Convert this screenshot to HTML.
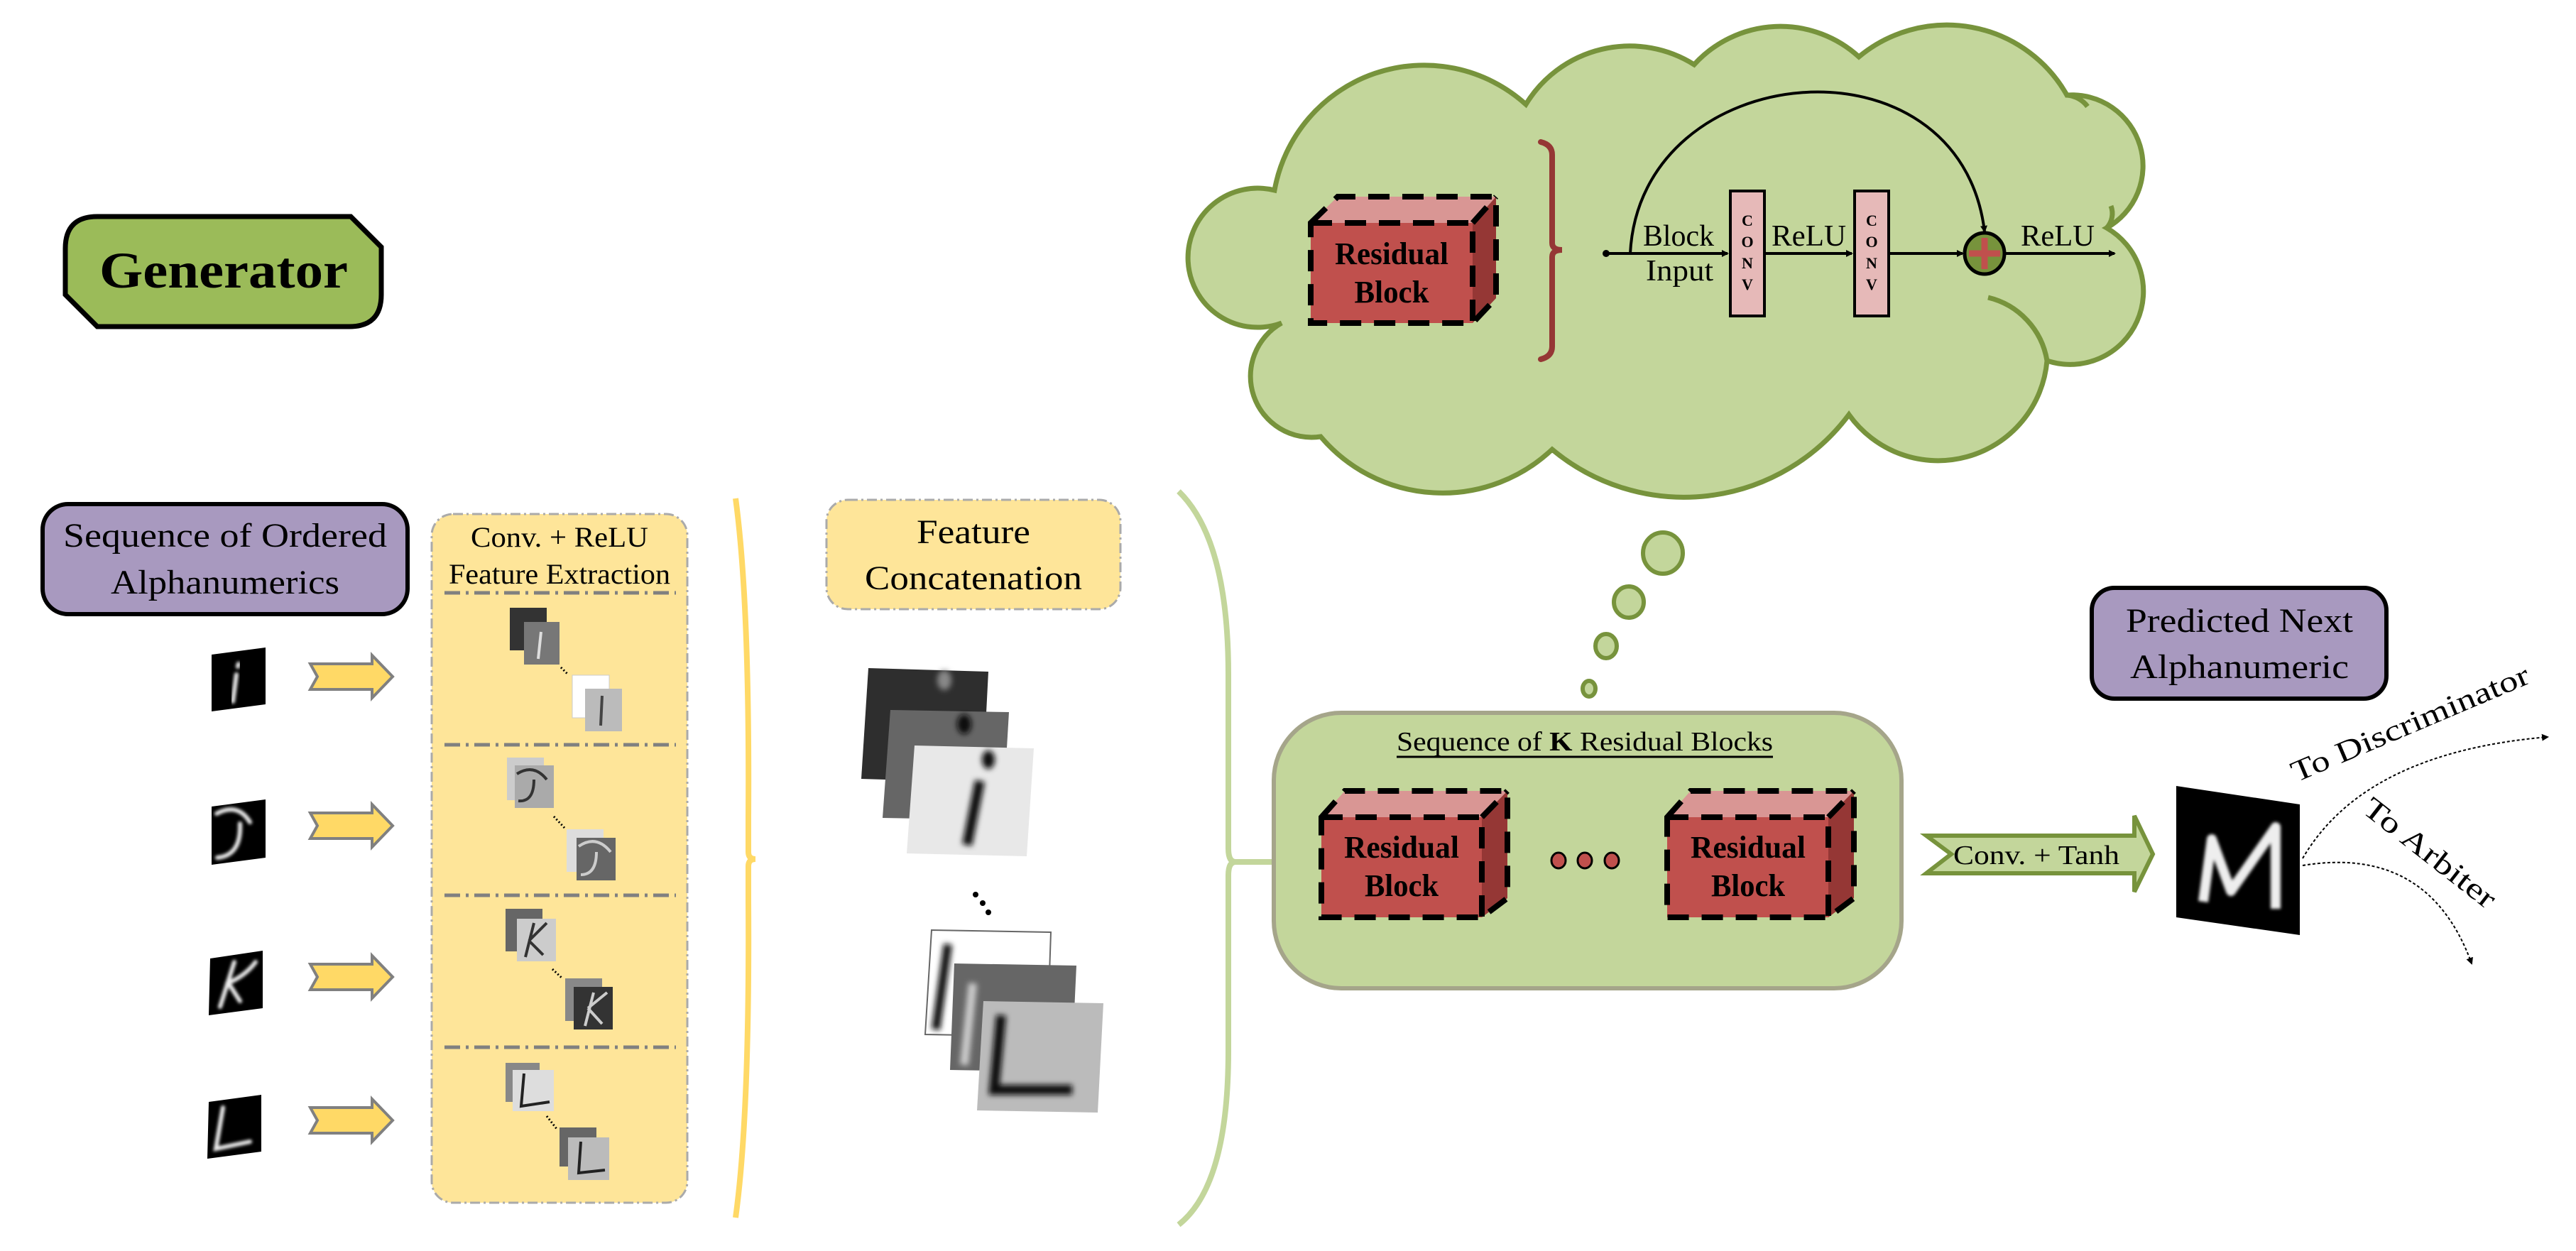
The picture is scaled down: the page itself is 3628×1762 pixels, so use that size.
<!DOCTYPE html>
<html><head><meta charset="utf-8"><style>
html,body{margin:0;padding:0;background:#fff;}
svg{display:block;}
text{font-family:"Liberation Serif",serif;fill:#000;}
</style></head><body>
<svg width="3628" height="1762" viewBox="0 0 3628 1762" xmlns="http://www.w3.org/2000/svg">
<defs>
<marker id="ah" markerWidth="10" markerHeight="10" refX="8" refY="5" orient="auto" markerUnits="userSpaceOnUse"><path d="M0,0 L10,5 L0,10 z" fill="#000"/></marker>
<marker id="ahb" markerWidth="22" markerHeight="22" refX="18" refY="11" orient="auto" markerUnits="userSpaceOnUse"><path d="M0,0 L20,11 L0,22 L4,11 z" fill="#000"/></marker>
<filter id="bl" x="-20%" y="-20%" width="140%" height="140%"><feGaussianBlur stdDeviation="4"/></filter>
<filter id="bl2" x="-20%" y="-20%" width="140%" height="140%"><feGaussianBlur stdDeviation="2"/></filter>
</defs>

<!-- Generator -->
<path d="M92,350 Q92,305 137,305 L494,305 L537,348 L537,415 Q537,460 492,460 L137,460 L92,415 Z" fill="#9bbb59" stroke="#000" stroke-width="7"/>
<text x="140" y="405" font-size="72" font-weight="bold" textLength="350" lengthAdjust="spacingAndGlyphs">Generator</text>

<!-- Cloud -->
<path d="M1795,268 A214,214 0 0 1 2149,147 A171,171 0 0 1 2386,91 A164,164 0 0 1 2618,80 A194,194 0 0 1 2911,134 A100,100 0 0 1 2967,321 A103,103 0 0 1 2883,508 A154,154 0 0 1 2604,584 A290,290 0 0 1 2186,633 A225,225 0 0 1 1860,615 A86,86 0 0 1 1805,455 A98,98 0 1 1 1795,268 Z" fill="#c3d69b" stroke="#77933c" stroke-width="7"/>
<path d="M2800,419 A110,110 0 0 1 2883,508" fill="none" stroke="#77933c" stroke-width="7"/>
<path d="M2911,134 A40,40 0 0 1 2940,150" fill="none" stroke="#77933c" stroke-width="7"/>
<path d="M2967,321 A30,30 0 0 0 2973,290" fill="none" stroke="#77933c" stroke-width="7"/>

<!-- cloud residual block -->
<g>
<polygon points="1846,314 1884,277 2107,277 2074,314" fill="#d99694"/>
<polygon points="2074,314 2107,277 2107,420 2074,455" fill="#953735"/>
<rect x="1846" y="314" width="228" height="141" fill="#c0504d"/>
<g fill="none" stroke="#000" stroke-width="8" stroke-dasharray="30,18">
<path d="M1846,314 L1884,277 L2107,277 L2107,420 L2074,455 L1846,455 Z"/>
<path d="M1846,314 L2074,314 L2074,455 M2074,314 L2107,277"/>
</g>
<text x="1960" y="372" font-size="44" font-weight="bold" text-anchor="middle" textLength="160" lengthAdjust="spacingAndGlyphs">Residual</text>
<text x="1960" y="426" font-size="44" font-weight="bold" text-anchor="middle" textLength="105" lengthAdjust="spacingAndGlyphs">Block</text>
</g>
<!-- cloud bracket -->
<path d="M2170,200 Q2186,204 2186,218 L2186,342 Q2186,352 2200,352 Q2186,352 2186,362 L2186,488 Q2186,502 2170,506" fill="none" stroke="#953735" stroke-width="8" stroke-linecap="round"/>

<!-- residual block diagram -->
<circle cx="2262" cy="357" r="5" fill="#000"/>
<line x1="2262" y1="357" x2="2433" y2="357" stroke="#000" stroke-width="4" marker-end="url(#ah)"/>
<rect x="2437" y="269" width="48" height="176" fill="#e6b9b8" stroke="#000" stroke-width="4"/>
<line x1="2485" y1="357" x2="2608" y2="357" stroke="#000" stroke-width="4" marker-end="url(#ah)"/>
<rect x="2612" y="269" width="48" height="176" fill="#e6b9b8" stroke="#000" stroke-width="4"/>
<line x1="2660" y1="357" x2="2764" y2="357" stroke="#000" stroke-width="4" marker-end="url(#ah)"/>
<g font-size="22" font-weight="bold" text-anchor="middle">
<text x="2461" y="318">C</text><text x="2461" y="348">O</text><text x="2461" y="378">N</text><text x="2461" y="408">V</text>
<text x="2636" y="318">C</text><text x="2636" y="348">O</text><text x="2636" y="378">N</text><text x="2636" y="408">V</text>
</g>
<path d="M2296,357 C2310,80 2760,40 2795,326" fill="none" stroke="#000" stroke-width="4" marker-end="url(#ah)"/>
<ellipse cx="2795" cy="357" rx="28" ry="29" fill="#77933c" stroke="#000" stroke-width="5"/>
<path d="M2795,335 V379 M2773,357 H2817" stroke="#c0504d" stroke-width="9"/>
<line x1="2823" y1="357" x2="2978" y2="357" stroke="#000" stroke-width="4" marker-end="url(#ah)"/>
<text x="2314" y="346" font-size="42" textLength="100" lengthAdjust="spacingAndGlyphs">Block</text>
<text x="2318" y="395" font-size="42" textLength="95" lengthAdjust="spacingAndGlyphs">Input</text>
<text x="2495" y="346" font-size="42" textLength="105" lengthAdjust="spacingAndGlyphs">ReLU</text>
<text x="2846" y="346" font-size="42" textLength="104" lengthAdjust="spacingAndGlyphs">ReLU</text>

<!-- thought bubbles -->
<g fill="#c3d69b" stroke="#77933c" stroke-width="6">
<ellipse cx="2342" cy="779" rx="28" ry="29"/>
<ellipse cx="2294" cy="848" rx="21" ry="22"/>
<ellipse cx="2262" cy="910" rx="15" ry="17"/>
<ellipse cx="2238" cy="970" rx="9" ry="11"/>
</g>

<!-- Sequence of ordered alphanumerics -->
<rect x="60" y="710" width="514" height="155" rx="36" fill="#a899bf" stroke="#000" stroke-width="6"/>
<text x="317" y="770" font-size="48" text-anchor="middle" textLength="456" lengthAdjust="spacingAndGlyphs">Sequence of Ordered</text>
<text x="317" y="836" font-size="48" text-anchor="middle" textLength="322" lengthAdjust="spacingAndGlyphs">Alphanumerics</text>

<!-- input letters -->
<g>
<polygon points="298,922 374,912 374,992 298,1002" fill="#000"/>
<path d="M336,935 l-1,4 M333,950 L328,988" stroke="#eee" stroke-width="6" stroke-linecap="round" filter="url(#bl2)"/>
<polygon points="298,1136 374,1126 374,1208 298,1218" fill="#000"/>
<path d="M305,1146 Q335,1130 352,1158 M338,1160 Q340,1205 306,1208" stroke="#eee" stroke-width="6" fill="none" stroke-linecap="round" filter="url(#bl2)"/>
<polygon points="296,1350 370,1339 370,1420 294,1430" fill="#000"/>
<path d="M330,1355 L310,1418 M320,1385 Q345,1375 360,1355 M322,1385 L338,1410" stroke="#eee" stroke-width="6" fill="none" stroke-linecap="round" filter="url(#bl2)"/>
<polygon points="294,1552 368,1542 368,1622 292,1632" fill="#000"/>
<path d="M314,1560 L304,1618 L352,1608" stroke="#eee" stroke-width="6" fill="none" stroke-linecap="round" filter="url(#bl2)"/>
</g>
<!-- yellow arrows -->
<g fill="#ffd966" stroke="#808080" stroke-width="4">
<path d="M437,935 L524,935 L524,923 L553,953 L524,983 L524,971 L437,971 L447,953 Z"/>
<path d="M437,1145 L524,1145 L524,1133 L553,1163 L524,1193 L524,1181 L437,1181 L447,1163 Z"/>
<path d="M437,1358 L524,1358 L524,1346 L553,1376 L524,1406 L524,1394 L437,1394 L447,1376 Z"/>
<path d="M437,1560 L524,1560 L524,1548 L553,1578 L524,1608 L524,1596 L437,1596 L447,1578 Z"/>
</g>

<!-- Conv + ReLU feature extraction panel -->
<rect x="608" y="724" width="360" height="970" rx="30" fill="#fee599" stroke="#aaa" stroke-width="3" stroke-dasharray="14,5,3,5"/>
<text x="788" y="770" font-size="40" text-anchor="middle" textLength="250" lengthAdjust="spacingAndGlyphs">Conv. + ReLU</text>
<text x="788" y="822" font-size="40" text-anchor="middle" textLength="312" lengthAdjust="spacingAndGlyphs">Feature Extraction</text>
<g stroke="#808080" stroke-width="5" stroke-dasharray="22,8,4,8">
<line x1="626" y1="835" x2="952" y2="835"/>
<line x1="626" y1="1049" x2="952" y2="1049"/>
<line x1="626" y1="1261" x2="952" y2="1261"/>
<line x1="626" y1="1475" x2="952" y2="1475"/>
</g>
<!-- small feature maps -->
<g>
<rect x="718" y="856" width="52" height="60" fill="#333"/><rect x="738" y="876" width="50" height="60" fill="#777"/>
<path d="M762,890 L758,928" stroke="#ddd" stroke-width="4"/>
<rect x="806" y="951" width="52" height="60" fill="#fff" stroke="#ccc"/><rect x="824" y="970" width="52" height="60" fill="#bbb"/>
<path d="M848,980 L846,1022" stroke="#444" stroke-width="4"/>
<path d="M790,940 L800,950" stroke="#000" stroke-width="3" stroke-dasharray="2,3"/>

<rect x="714" y="1067" width="52" height="60" fill="#ccc"/><rect x="725" y="1078" width="55" height="60" fill="#aaa"/>
<path d="M728,1090 Q752,1075 770,1098 M752,1098 Q752,1130 730,1128" stroke="#333" stroke-width="4" fill="none"/>
<rect x="798" y="1168" width="52" height="60" fill="#ddd"/><rect x="812" y="1180" width="55" height="60" fill="#666"/>
<path d="M815,1192 Q840,1175 860,1200 M840,1200 Q840,1232 818,1232" stroke="#ccc" stroke-width="4" fill="none"/>
<path d="M780,1150 L795,1166" stroke="#000" stroke-width="3" stroke-dasharray="2,3"/>

<rect x="712" y="1280" width="52" height="60" fill="#666"/><rect x="728" y="1294" width="55" height="60" fill="#ccc"/>
<path d="M752,1300 L740,1348 M745,1325 L770,1300 M745,1325 L765,1345" stroke="#333" stroke-width="4" fill="none"/>
<rect x="796" y="1378" width="52" height="60" fill="#888"/><rect x="808" y="1390" width="55" height="60" fill="#333"/>
<path d="M836,1398 L824,1445 M828,1420 L855,1398 M828,1420 L848,1442" stroke="#ccc" stroke-width="4" fill="none"/>
<path d="M778,1365 L792,1378" stroke="#000" stroke-width="3" stroke-dasharray="2,3"/>

<rect x="712" y="1497" width="48" height="55" fill="#888"/><rect x="722" y="1507" width="58" height="58" fill="#ddd"/>
<path d="M738,1512 L734,1558 L774,1552" stroke="#222" stroke-width="4" fill="none"/>
<rect x="788" y="1588" width="52" height="55" fill="#666"/><rect x="800" y="1602" width="58" height="60" fill="#bbb"/>
<path d="M818,1608 L815,1652 L852,1648" stroke="#222" stroke-width="4" fill="none"/>
<path d="M770,1572 L784,1590" stroke="#000" stroke-width="3" stroke-dasharray="2,3"/>
</g>

<!-- yellow brace -->
<path d="M1036,702 Q1056,850 1054,1150 L1054,1200 Q1054,1210 1064,1210 Q1054,1210 1054,1220 L1054,1270 Q1056,1570 1036,1715" fill="none" stroke="#ffd966" stroke-width="8"/>

<!-- Feature concatenation -->
<rect x="1164" y="704" width="414" height="154" rx="30" fill="#fee599" stroke="#aaa" stroke-width="3" stroke-dasharray="14,5,3,5"/>
<text x="1371" y="765" font-size="48" text-anchor="middle" textLength="160" lengthAdjust="spacingAndGlyphs">Feature</text>
<text x="1371" y="830" font-size="48" text-anchor="middle" textLength="306" lengthAdjust="spacingAndGlyphs">Concatenation</text>
<g>
<polygon points="1223,941 1392,946 1384,1102 1213,1097" fill="#2e2e2e"/>
<polygon points="1254,1000 1421,1003 1412,1155 1243,1152" fill="#666"/>
<polygon points="1288,1050 1456,1054 1446,1206 1277,1202" fill="#e8e8e8"/>
<g filter="url(#bl)">
<ellipse cx="1330" cy="958" rx="10" ry="14" fill="#888"/>
<ellipse cx="1358" cy="1020" rx="10" ry="14" fill="#111"/>
<ellipse cx="1392" cy="1070" rx="9" ry="13" fill="#111"/>
<path d="M1380,1100 L1362,1190" stroke="#111" stroke-width="14"/>
</g>
<circle cx="1374" cy="1260" r="4" fill="#000"/><circle cx="1384" cy="1272" r="4" fill="#000"/><circle cx="1392" cy="1285" r="4" fill="#000"/>
<polygon points="1312,1310 1480,1313 1475,1460 1303,1457" fill="#fff" stroke="#666" stroke-width="2"/>
<polygon points="1344,1357 1516,1360 1509,1510 1338,1507" fill="#666"/>
<polygon points="1385,1410 1554,1413 1546,1567 1376,1564" fill="#bbb"/>
<g filter="url(#bl)">
<path d="M1335,1330 L1318,1450" stroke="#111" stroke-width="12"/>
<path d="M1370,1385 L1358,1500" stroke="#ccc" stroke-width="12"/>
<path d="M1410,1430 L1400,1535 L1510,1535" stroke="#111" stroke-width="14" fill="none"/>
</g>
</g>

<!-- green brace -->
<path d="M1660,692 Q1730,760 1730,950 L1730,1195 Q1730,1214 1740,1214 L1796,1214 M1740,1214 Q1730,1214 1730,1233 L1730,1480 Q1730,1670 1660,1725" fill="none" stroke="#c3d69b" stroke-width="8"/>

<!-- Sequence of K residual blocks -->
<rect x="1794" y="1004" width="884" height="388" rx="95" fill="#c3d69b" stroke="#a5a58a" stroke-width="6"/>
<text x="2232" y="1057" font-size="38" text-anchor="middle" textLength="530" lengthAdjust="spacingAndGlyphs">Sequence of <tspan font-weight="bold">K</tspan> Residual Blocks</text>
<line x1="1967" y1="1066" x2="2497" y2="1066" stroke="#000" stroke-width="3"/>
<g>
<polygon points="1861,1151 1894,1114 2123,1114 2087,1151" fill="#d99694"/>
<polygon points="2087,1151 2123,1114 2123,1265 2087,1292" fill="#953735"/>
<rect x="1861" y="1151" width="226" height="141" fill="#c0504d"/>
<g fill="none" stroke="#000" stroke-width="8" stroke-dasharray="30,18">
<path d="M1861,1151 L1894,1114 L2123,1114 L2123,1265 L2087,1292 L1861,1292 Z"/>
<path d="M1861,1151 L2087,1151 L2087,1292 M2087,1151 L2123,1114"/>
</g>
<text x="1974" y="1208" font-size="44" font-weight="bold" text-anchor="middle" textLength="162" lengthAdjust="spacingAndGlyphs">Residual</text>
<text x="1974" y="1262" font-size="44" font-weight="bold" text-anchor="middle" textLength="104" lengthAdjust="spacingAndGlyphs">Block</text>
</g>
<g>
<polygon points="2348,1151 2381,1114 2611,1114 2575,1151" fill="#d99694"/>
<polygon points="2575,1151 2611,1114 2611,1265 2575,1292" fill="#953735"/>
<rect x="2348" y="1151" width="227" height="141" fill="#c0504d"/>
<g fill="none" stroke="#000" stroke-width="8" stroke-dasharray="30,18">
<path d="M2348,1151 L2381,1114 L2611,1114 L2611,1265 L2575,1292 L2348,1292 Z"/>
<path d="M2348,1151 L2575,1151 L2575,1292 M2575,1151 L2611,1114"/>
</g>
<text x="2462" y="1208" font-size="44" font-weight="bold" text-anchor="middle" textLength="162" lengthAdjust="spacingAndGlyphs">Residual</text>
<text x="2462" y="1262" font-size="44" font-weight="bold" text-anchor="middle" textLength="104" lengthAdjust="spacingAndGlyphs">Block</text>
</g>
<g fill="#c0504d" stroke="#000" stroke-width="3">
<ellipse cx="2195" cy="1212" rx="10" ry="11"/><ellipse cx="2232" cy="1212" rx="10" ry="11"/><ellipse cx="2270" cy="1212" rx="10" ry="11"/>
</g>

<!-- Conv + Tanh arrow -->
<path d="M2713,1177 L3006,1177 L3006,1149 L3032,1203 L3006,1256 L3006,1230 L2713,1230 L2748,1203 Z" fill="#c3d69b" stroke="#77933c" stroke-width="6"/>
<text x="2868" y="1217" font-size="38" text-anchor="middle" textLength="234" lengthAdjust="spacingAndGlyphs">Conv. + Tanh</text>

<!-- Predicted next -->
<rect x="2946" y="828" width="415" height="156" rx="32" fill="#a899bf" stroke="#000" stroke-width="6"/>
<text x="3154" y="890" font-size="48" text-anchor="middle" textLength="320" lengthAdjust="spacingAndGlyphs">Predicted Next</text>
<text x="3154" y="955" font-size="48" text-anchor="middle" textLength="308" lengthAdjust="spacingAndGlyphs">Alphanumeric</text>

<!-- M image -->
<polygon points="3065,1107 3239,1133 3239,1317 3065,1292" fill="#000"/>
<path d="M3103,1270 L3115,1182 L3142,1255 L3205,1165 L3205,1280" stroke="#eee" stroke-width="14" fill="none" stroke-linejoin="round" filter="url(#bl2)"/>

<!-- outputs -->
<path d="M3243,1209 Q3330,1060 3588,1038" fill="none" stroke="#000" stroke-width="2" stroke-dasharray="4,3" marker-end="url(#ah)"/>
<path d="M3243,1219 Q3420,1190 3481,1357" fill="none" stroke="#000" stroke-width="2" stroke-dasharray="4,3" marker-end="url(#ah)"/>
<text x="0" y="0" font-size="42" transform="translate(3234,1102) rotate(-23)" textLength="360" lengthAdjust="spacingAndGlyphs">To Discriminator</text>
<text x="0" y="0" font-size="42" transform="translate(3325,1143) rotate(38)" textLength="225" lengthAdjust="spacingAndGlyphs">To Arbiter</text>
</svg>
</body></html>
